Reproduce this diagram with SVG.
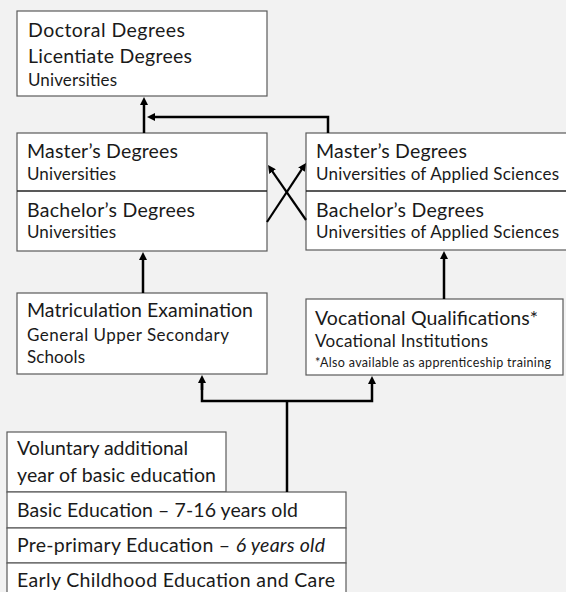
<svg xmlns="http://www.w3.org/2000/svg" width="566" height="592" viewBox="0 0 566 592">
<defs>
<style>
.bg{fill:#f2f2f2}
.box{fill:#ffffff;stroke:#5a5a5a;stroke-width:1.2}
.div{stroke:#222;stroke-width:1.4}
text{font-family:Lato,"Liberation Sans",sans-serif;fill:#1a1a1a}
.l{font-size:19.5px}
.m{font-size:17px}
.s{font-size:12.5px}
.con{fill:none;stroke:#000;stroke-width:2.5}
.con2{fill:none;stroke:#000;stroke-width:2.2}
</style>
<marker id="ah" markerUnits="userSpaceOnUse" viewBox="0 0 8 8" markerWidth="8" markerHeight="8" refX="1" refY="4" orient="auto">
<path d="M0,0 L8,4 L0,8 z" fill="#000"/>
</marker>
</defs>
<rect class="bg" x="0" y="0" width="566" height="592"/>

<g id="doctoral">
<rect class="box" x="17" y="11" width="250" height="85"/>
<text class="l" x="28" y="37" textLength="157" lengthAdjust="spacing">Doctoral Degrees</text>
<text class="l" x="28" y="63" textLength="164" lengthAdjust="spacing">Licentiate Degrees</text>
<text class="m" x="28" y="86" textLength="89" lengthAdjust="spacing">Universities</text>
</g>

<g id="univ">
<rect class="box" x="17" y="133" width="250" height="118"/>
<line class="div" x1="17" y1="191" x2="267" y2="191"/>
<text class="l" x="27" y="158" textLength="151" lengthAdjust="spacing">Master’s Degrees</text>
<text class="m" x="27" y="180" textLength="89" lengthAdjust="spacing">Universities</text>
<text class="l" x="27" y="217" textLength="168" lengthAdjust="spacing">Bachelor’s Degrees</text>
<text class="m" x="27" y="238" textLength="89" lengthAdjust="spacing">Universities</text>
</g>

<g id="uas">
<rect class="box" x="306" y="133" width="264" height="117"/>
<line class="div" x1="306" y1="191" x2="566" y2="191"/>
<text class="l" x="316" y="158" textLength="151" lengthAdjust="spacing">Master’s Degrees</text>
<text class="m" x="316" y="180" textLength="243" lengthAdjust="spacing">Universities of Applied Sciences</text>
<text class="l" x="316" y="217" textLength="168" lengthAdjust="spacing">Bachelor’s Degrees</text>
<text class="m" x="316" y="238" textLength="243" lengthAdjust="spacing">Universities of Applied Sciences</text>
</g>

<g id="matric">
<rect class="box" x="17" y="293" width="250" height="81"/>
<text class="l" x="27" y="317" textLength="226" lengthAdjust="spacing">Matriculation Examination</text>
<text class="m" x="27" y="341" textLength="202" lengthAdjust="spacing">General Upper Secondary</text>
<text class="m" x="27" y="363" textLength="58" lengthAdjust="spacing">Schools</text>
</g>

<g id="vocational">
<rect class="box" x="306" y="299" width="257" height="76"/>
<text class="l" x="315" y="325" textLength="223" lengthAdjust="spacing">Vocational Qualifications*</text>
<text class="m" x="315" y="347" textLength="173" lengthAdjust="spacing">Vocational Institutions</text>
<text class="s" x="315" y="367" textLength="236" lengthAdjust="spacing">*Also available as apprenticeship training</text>
</g>

<g id="voluntary">
<rect class="box" x="7" y="432" width="219" height="60"/>
<text class="l" x="17" y="455" textLength="171" lengthAdjust="spacing">Voluntary additional</text>
<text class="l" x="17" y="482" textLength="199" lengthAdjust="spacing">year of basic education</text>
</g>

<g id="basic">
<rect class="box" x="7" y="492" width="339" height="36"/>
<text class="l" x="17" y="517" textLength="281" lengthAdjust="spacing">Basic Education – 7-16 years old</text>
</g>

<g id="preprimary">
<rect class="box" x="7" y="528" width="339" height="35"/>
<text class="l" x="17" y="552" textLength="308" lengthAdjust="spacing">Pre-primary Education – <tspan font-style="italic">6 years old</tspan></text>
</g>

<g id="early">
<rect class="box" x="7" y="563" width="339" height="40"/>
<text class="l" x="17" y="587" textLength="318" lengthAdjust="spacing">Early Childhood Education and Care</text>
</g>

<g id="connectors">
<line class="con" x1="144" y1="133" x2="144" y2="104" marker-end="url(#ah)"/>
<polyline class="con" points="328,133 328,117 154,117" marker-end="url(#ah)"/>
<line class="con2" x1="267" y1="222" x2="302.1" y2="168.8" marker-end="url(#ah)"/>
<line class="con2" x1="306" y1="220" x2="272" y2="170.8" marker-end="url(#ah)"/>
<line class="con" x1="143" y1="293" x2="143" y2="259" marker-end="url(#ah)"/>
<line class="con" x1="444" y1="299" x2="444" y2="258" marker-end="url(#ah)"/>
<line class="con" x1="287" y1="492" x2="287" y2="401"/>
<polyline class="con" points="202,382 202,401 372,401 372,383" marker-end="url(#ah)"/>
<line class="con" x1="202" y1="390" x2="202" y2="382" marker-end="url(#ah)"/>
</g>
</svg>
